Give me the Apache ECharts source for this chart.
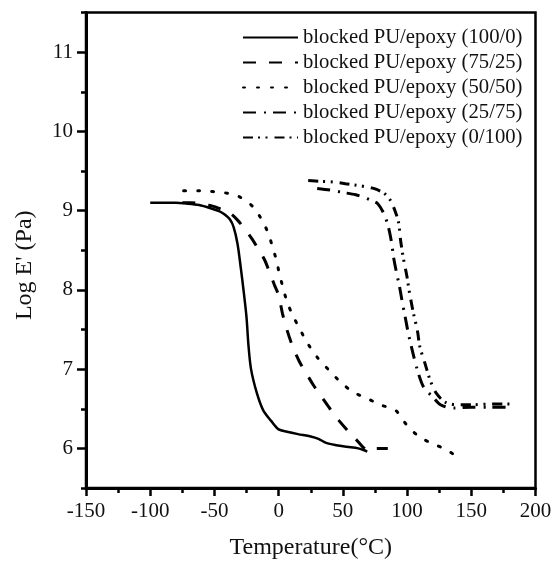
<!DOCTYPE html>
<html>
<head>
<meta charset="utf-8">
<script src="https://cdn.jsdelivr.net/npm/echarts@6/dist/echarts.min.js"></script>
<style>html,body{margin:0;padding:0;background:#fff;}#c{width:555px;height:561px;}</style>
</head>
<body>
<div id="c"></div>
<script>
const seriesNames = [
  'blocked PU/epoxy (100/0)',
  'blocked PU/epoxy (75/25)',
  'blocked PU/epoxy (50/50)',
  'blocked PU/epoxy (25/75)',
  'blocked PU/epoxy (0/100)'
];
const xTickValues = [-150, -100, -50, 0, 50, 100, 150, 200];
const yMajorTicks = [6, 7, 8, 9, 10, 11];
const yMinorTicks = [5.5, 6.5, 7.5, 8.5, 9.5, 10.5, 11.5];

const pu100 = [[-100,9.1],[-90,9.1],[-80,9.1],[-72,9.09],[-62,9.07],[-53,9.03],[-46,8.99],[-42,8.95],[-38,8.89],[-35,8.79],[-32,8.58],[-29.5,8.28],[-27,7.95],[-25,7.65],[-23.5,7.3],[-21.5,7.0],[-17,6.7],[-12,6.48],[-6,6.35],[0,6.24],[6.5,6.21],[15,6.18],[25,6.15],[31,6.12],[37,6.07],[45,6.04],[53,6.02],[62,6.0],[66,5.98],[69,5.96]];
const pu75 = [[-75,9.1],[-68,9.1],[-60,9.08],[-52,9.06],[-45,9.02],[-38,8.97],[-32,8.88],[-26,8.76],[-21,8.65],[-16,8.52],[-11,8.38],[-7,8.22],[-3,8.05],[0,7.93],[3,7.7],[6,7.52],[11,7.28],[16,7.1],[21,6.96],[27,6.8],[33,6.66],[40,6.5],[47,6.35],[54,6.22],[61,6.1],[66,6.01],[70,5.97],[75,6.0],[80,6.0],[85,6.0]];
const pu50 = [[-74,9.25],[-62,9.25],[-51,9.24],[-40,9.22],[-30,9.17],[-20,9.05],[-13,8.88],[-8,8.71],[-4.4,8.52],[-1.3,8.35],[0.5,8.2],[3.6,8.02],[6.5,7.85],[11,7.68],[17,7.49],[22,7.34],[30,7.15],[39,6.99],[48,6.84],[58,6.71],[69,6.63],[79,6.55],[91,6.48],[100,6.29],[110,6.14],[120,6.06],[131,5.98],[140,5.88]];
const pu25 = [[30,9.28],[40,9.26],[50,9.23],[60,9.2],[66,9.17],[72,9.13],[77,9.09],[82,8.96],[85.5,8.79],[88,8.59],[89.5,8.41],[92,8.2],[94,8.05],[96,7.87],[98.5,7.66],[101,7.45],[104,7.24],[108,6.99],[113,6.77],[120,6.65],[126,6.55],[136,6.51],[150,6.52],[165,6.52],[178,6.52]];
const pu0 = [[23,9.38],[33,9.37],[43,9.36],[52,9.34],[61,9.32],[68,9.3],[74,9.28],[82,9.22],[87,9.13],[91,8.98],[93.5,8.84],[95,8.62],[97,8.41],[100,8.16],[101.5,8.0],[102.5,7.91],[105,7.7],[108,7.49],[110,7.28],[114,7.07],[118,6.86],[123,6.69],[130,6.58],[139,6.55],[150,6.55],[165,6.56],[180,6.56]];

const dataSets = [pu100, pu75, pu50, pu25, pu0];
const dashTypes = ['solid', [13, 13], [2, 12], [13, 8, 2, 7], [10, 5, 2, 5.5, 2, 7]];
const font = 'Liberation Serif';

const chart = echarts.init(document.getElementById('c'));
chart.setOption({
  animation: false,
  backgroundColor: '#fff',
  grid: { left: 86, right: 19.5, top: 12.5, bottom: 73, outerBoundsMode: 'none', containLabel: false,
    show: true, borderColor: '#000', borderWidth: 2.5, backgroundColor: 'transparent' },
  legend: {
    orient: 'vertical', left: 242, top: 27, padding: 0,
    itemWidth: 55, itemHeight: 12, itemGap: 4,
    data: seriesNames,
    itemStyle: { opacity: 0, borderWidth: 0 },
    textStyle: { fontFamily: font, fontSize: 20.7, color: '#111', lineHeight: 21 }
  },
  xAxis: {
    type: 'value', min: -150, max: 200, interval: 50,
    name: 'Temperature(\u00B0C)', nameLocation: 'middle', nameGap: 48,
    nameTextStyle: { fontFamily: font, fontSize: 24, color: '#111' },
    axisLine: { show: true, onZero: false, lineStyle: { color: '#000', width: 3 } },
    axisTick: { show: true, length: 8, lineStyle: { color: '#000', width: 2.5 } },
    minorTick: { show: true, splitNumber: 2, length: 5, lineStyle: { color: '#000', width: 2.5 } },
    splitLine: { show: false },
    axisLabel: { fontFamily: font, fontSize: 21, color: '#111', margin: 13,
      customValues: xTickValues }
  },
  yAxis: [{
    type: 'value', min: 5.5, max: 11.5,
    name: "Log E' (Pa)", nameLocation: 'middle', nameGap: 49,
    nameTextStyle: { fontFamily: font, fontSize: 24, color: '#111', padding: [0, 30, 0, 0] },
    axisLine: { show: true, onZero: false, lineStyle: { color: '#000', width: 3 } },
    axisTick: { show: true, length: 9, customValues: yMajorTicks, lineStyle: { color: '#000', width: 2.5 } },
    splitLine: { show: false },
    axisLabel: { fontFamily: font, fontSize: 21, color: '#111', margin: 13, customValues: yMajorTicks }
  }, {
    type: 'value', min: 5.5, max: 11.5, position: 'left',
    axisLine: { show: false, onZero: false },
    axisTick: { show: true, length: 5, customValues: yMinorTicks, lineStyle: { color: '#000', width: 2.5 } },
    splitLine: { show: false },
    axisLabel: { show: false }
  }],
  series: dataSets.map((d, i) => ({
    name: seriesNames[i], type: 'line', data: d, yAxisIndex: 0,
    symbol: 'none', smooth: 0.3, silent: true,
    lineStyle: { color: '#000', width: i === 0 ? 2.5 : 3, type: dashTypes[i], cap: i === 2 ? 'round' : 'butt' },
    itemStyle: { color: '#000' }
  }))
});
</script>
</body>
</html>
